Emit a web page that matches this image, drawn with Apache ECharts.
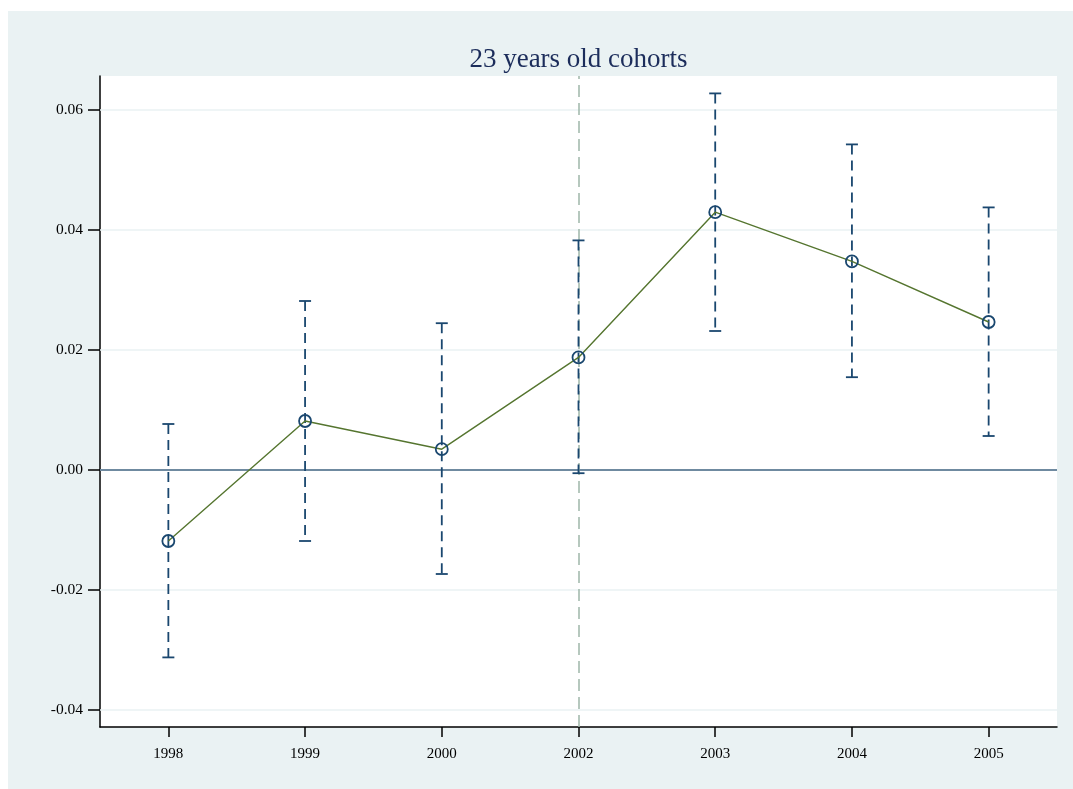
<!DOCTYPE html>
<html>
<head>
<meta charset="utf-8">
<script src="https://cdn.jsdelivr.net/npm/echarts@6/dist/echarts.min.js"></script>
<style>
  html, body { margin: 0; padding: 0; background: #ffffff; }
  #chart { position: absolute; left: 8px; top: 11px; width: 1065px; height: 778px; }
</style>
</head>
<body>
<div id="chart"></div>
<script>
// Cohort estimates with confidence intervals
const years = ['1998', '1999', '2000', '2002', '2003', '2004', '2005'];
const estimates = [-0.0118, 0.0082, 0.0035, 0.0188, 0.0430, 0.0348, 0.0247];
const ciLower = [-0.0312, -0.0118, -0.0173, -0.0005, 0.0232, 0.0155, 0.0057];
const ciUpper = [0.0077, 0.0282, 0.0245, 0.0383, 0.0628, 0.0543, 0.0438];
const yTicks = [-0.04, -0.02, 0, 0.02, 0.04, 0.06];
const gridValues = [-0.04, -0.02, 0.02, 0.04, 0.06];
const refYear = '2002';

const navy = '#1a476f';
const green = '#55752f';
const serif = '"Liberation Serif", "DejaVu Serif", serif';

const ciData = years.map((y, i) => [i, ciLower[i], ciUpper[i]]);

const chart = echarts.init(document.getElementById('chart'), null, { renderer: 'canvas' });

chart.setOption({
  backgroundColor: '#eaf2f3',
  animation: false,
  title: {
    text: '23 years old cohorts',
    left: 565.5,
    top: 30,
    textAlign: 'center',
    textStyle: { fontFamily: serif, fontSize: 27, fontWeight: 'normal', color: '#1c2d5b' }
  },
  grid: {
    left: 92, right: 16, top: 65, bottom: 62,
    show: true, backgroundColor: '#ffffff', borderWidth: 0
  },
  xAxis: {
    type: 'category',
    data: years,
    boundaryGap: true,
    axisLine: { show: true, onZero: false, lineStyle: { color: '#000000', width: 1.5 } },
    axisTick: { show: true, alignWithLabel: true, interval: 0, length: 10, lineStyle: { color: '#000000', width: 1.5 } },
    axisLabel: { fontFamily: serif, fontSize: 15, color: '#000000', margin: 20 },
    splitLine: { show: false }
  },
  yAxis: {
    type: 'value',
    min: -0.0428,
    max: 0.0657,
    axisLine: { show: true, onZero: false, lineStyle: { color: '#000000', width: 1.5 } },
    axisTick: { show: true, length: 12, customValues: yTicks, lineStyle: { color: '#000000', width: 1.5 } },
    axisLabel: {
      customValues: yTicks,
      fontFamily: serif, fontSize: 15.5, color: '#000000', margin: 17,
      formatter: v => v.toFixed(2)
    },
    splitLine: { show: false }
  },
  series: [
    {
      // light horizontal grid lines and the zero reference line
      type: 'line',
      data: [],
      silent: true,
      z: 1,
      markLine: {
        symbol: 'none',
        silent: true,
        z: 1,
        label: { show: false },
        data: gridValues.map(v => ({ yAxis: v, lineStyle: { color: '#eaf2f3', width: 1.5, type: 'solid' } }))
          .concat([{ yAxis: 0, lineStyle: { color: '#6f8aa0', width: 2.2, type: 'solid' } }])
          .concat([{ xAxis: refYear, lineStyle: { color: '#9fb6a9', width: 1.5, type: [12, 6] } }])
      }
    },
    {
      // dashed confidence intervals with solid caps
      type: 'custom',
      data: ciData,
      encode: { x: 0, y: [1, 2] },
      z: 3,
      renderItem: function (params, api) {
        const xi = api.value(0);
        const lo = api.coord([xi, api.value(1)]);
        const hi = api.coord([xi, api.value(2)]);
        const half = 6;
        const stroke = { stroke: navy, lineWidth: 1.8 };
        return {
          type: 'group',
          children: [
            { type: 'line', shape: { x1: hi[0], y1: hi[1], x2: lo[0], y2: lo[1] },
              style: Object.assign({ lineDash: [10, 6] }, stroke) },
            { type: 'line', shape: { x1: hi[0] - half, y1: hi[1], x2: hi[0] + half, y2: hi[1] }, style: stroke },
            { type: 'line', shape: { x1: lo[0] - half, y1: lo[1], x2: lo[0] + half, y2: lo[1] }, style: stroke }
          ]
        };
      }
    },
    {
      // point estimates
      type: 'line',
      data: estimates,
      z: 4,
      symbol: 'circle',
      symbolSize: 12,
      showAllSymbol: true,
      lineStyle: { color: green, width: 1.4 },
      itemStyle: { color: 'rgba(0,0,0,0)', borderColor: navy, borderWidth: 1.8 }
    }
  ]
});
</script>
</body>
</html>
